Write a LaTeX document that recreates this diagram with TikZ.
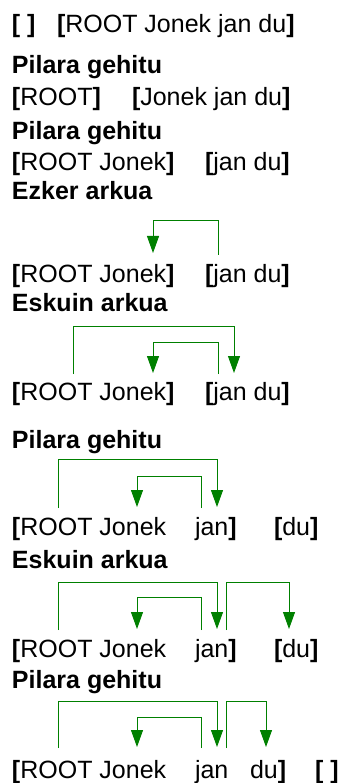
\documentclass[tikz,border=0pt]{standalone}
\usepackage{fontspec}
\setmainfont{Liberation Sans}
\usetikzlibrary{arrows.meta}
\definecolor{arcgreen}{RGB}{0,128,0}
\newcommand\obr{\textbf{[}}
\newcommand\cbr{\textbf{]}}
\tikzset{
  txt/.style={anchor=base west, inner sep=0pt, outer sep=0pt,
    font=\fontsize{25}{30}\selectfont},
  head/.style={txt, font=\fontsize{25}{30}\selectfont\bfseries},
  arc/.style={draw=arcgreen, line width=1pt,
    -{Triangle[width=12pt,length=17pt,fill=arcgreen]}},
}
\begin{document}
\begin{tikzpicture}[x=1pt,y=-1pt]
\useasboundingbox (0,0) rectangle (342,783);

% initial configuration
\node[txt] (s0) at (12,33) {\obr\ \cbr};
\node[txt] (b0) at (57,33) {\obr ROOT Jonek jan du\cbr};

% shift
\node[head] (h1) at (12,74) {Pilara gehitu};
\node[txt] (s1) at (12,106) {\obr ROOT\cbr};
\node[txt] (b1) at (132,106) {\obr Jonek jan du\cbr};

% shift
\node[head] (h2) at (12,140) {Pilara gehitu};
\node[txt] (s2) at (12,171) {\obr ROOT Jonek\cbr};
\node[txt] (b2) at (205,171) {\obr jan du\cbr};

% left arc
\node[head] (h3) at (12,200) {Ezker arkua};
\coordinate (e3a) at (218,255);
\coordinate (e3b) at (153,253);
\draw[arc] (e3a) -- ++(0,-34) -| (e3b);
\node[txt] (s3) at (12,282) {\obr ROOT Jonek\cbr};
\node[txt] (b3) at (205,282) {\obr jan du\cbr};

% right arc
\node[head] (h4) at (12,311) {Eskuin arkua};
\coordinate (e4a) at (73,374);
\coordinate (e4b) at (234,373);
\coordinate (e4c) at (218,374);
\coordinate (e4d) at (153,373);
\draw[arc] (e4a) -- ++(0,-48) -| (e4b);
\draw[arc] (e4c) -- ++(0,-32) -| (e4d);
\node[txt] (s4) at (12,400) {\obr ROOT Jonek\cbr};
\node[txt] (b4) at (205,400) {\obr jan du\cbr};

% shift
\node[head] (h5) at (12,448) {Pilara gehitu};
\coordinate (e5a) at (58,508);
\coordinate (e5b) at (217,507);
\coordinate (e5c) at (201,508);
\coordinate (e5d) at (137,507);
\draw[arc] (e5a) -- ++(0,-49) -| (e5b);
\draw[arc] (e5c) -- ++(0,-32) -| (e5d);
\node[txt] (s5) at (12,535) {\obr ROOT Jonek};
\node[txt] (j5) at (195,535) {jan\cbr};
\node[txt] (b5) at (274,535) {\obr du\cbr};

% right arc
\node[head] (h6) at (12,568) {Eskuin arkua};
\coordinate (e6a) at (58,630);
\coordinate (e6b) at (217,629);
\coordinate (e6c) at (201,630);
\coordinate (e6d) at (137,629);
\coordinate (e6e) at (226,630);
\coordinate (e6f) at (289,629);
\draw[arc] (e6a) -- ++(0,-48) -| (e6b);
\draw[arc] (e6c) -- ++(0,-33) -| (e6d);
\draw[arc] (e6e) -- ++(0,-48) -| (e6f);
\node[txt] (s6) at (12,657) {\obr ROOT Jonek};
\node[txt] (j6) at (195,657) {jan\cbr};
\node[txt] (b6) at (274,657) {\obr du\cbr};

% shift
\node[head] (h7) at (12,688) {Pilara gehitu};
\coordinate (e7a) at (58,748);
\coordinate (e7b) at (217,747);
\coordinate (e7c) at (201,748);
\coordinate (e7d) at (137,747);
\coordinate (e7e) at (226,748);
\coordinate (e7f) at (266,747);
\draw[arc] (e7a) -- ++(0,-47) -| (e7b);
\draw[arc] (e7c) -- ++(0,-31) -| (e7d);
\draw[arc] (e7e) -- ++(0,-47) -| (e7f);
\node[txt] (s7) at (12,778) {\obr ROOT Jonek};
\node[txt] (j7) at (195,778) {jan};
\node[txt] (d7) at (250,778) {du\cbr};
\node[txt] (b7) at (315,778) {\obr\ \cbr};
\end{tikzpicture}
\end{document}
